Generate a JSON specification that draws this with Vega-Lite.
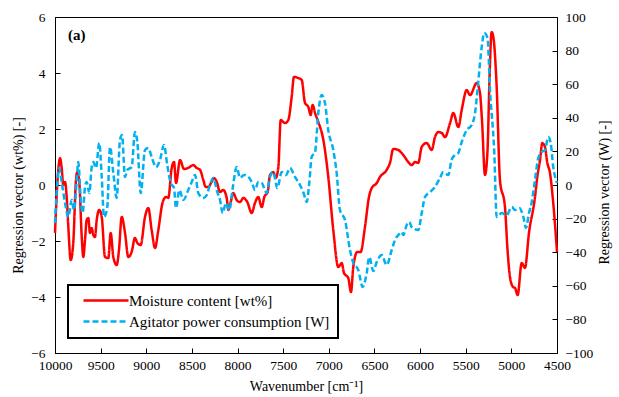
{
  "$schema": "https://vega.github.io/schema/vega-lite/v6.json",
  "width": 502,
  "height": 336,
  "autosize": {"type": "none"},
  "padding": {"left": 55, "top": 17, "right": 62, "bottom": 44},
  "background": "white",
  "config": {
    "view": {"stroke": "black", "strokeWidth": 1},
    "axis": {"grid": false, "labelFont": "Liberation Serif", "titleFont": "Liberation Serif", "labelFontSize": 13.5, "titleFontSize": 14, "labelColor": "black", "titleColor": "black", "titleFontWeight": "normal", "domainColor": "black", "tickColor": "black", "tickSize": -5, "labelFlush": false, "labelOverlap": false}
  },
  "datasets": {
    "panel": [{"w": 9858, "v": 5.18, "label": "(a)"}],
    "red": [
      {"w":10000,"v":-1.71},{"w":9964,"v":0.54},{"w":9945,"v":0.96},{"w":9927,"v":0.61},{"w":9909,"v":0.0},{"w":9890,"v":0.11},{"w":9872,"v":-0.43},{"w":9854,"v":-1.5},{"w":9828,"v":-2.68},{"w":9800,"v":-2.07},{"w":9770,"v":0.18},{"w":9756,"v":0.46},{"w":9734,"v":0.11},{"w":9707,"v":-1.86},{"w":9690,"v":-2.57},{"w":9671,"v":-1.96},{"w":9653,"v":-1.25},{"w":9635,"v":-1.18},{"w":9617,"v":-1.71},{"w":9598,"v":-1.54},{"w":9580,"v":-1.79},{"w":9562,"v":-1.86},{"w":9543,"v":-1.25},{"w":9515,"v":-0.89},{"w":9488,"v":-1.14},{"w":9452,"v":-2.57},{"w":9416,"v":-2.61},{"w":9390,"v":-1.71},{"w":9361,"v":-2.57},{"w":9324,"v":-2.86},{"w":9299,"v":-2.32},{"w":9269,"v":-1.14},{"w":9233,"v":-1.71},{"w":9197,"v":-2.57},{"w":9160,"v":-2.39},{"w":9124,"v":-1.89},{"w":9098,"v":-2.07},{"w":9061,"v":-2.14},{"w":9014,"v":-1.14},{"w":8978,"v":-0.82},{"w":8941,"v":-1.61},{"w":8904,"v":-2.25},{"w":8868,"v":-1.61},{"w":8820,"v":-0.61},{"w":8784,"v":-0.43},{"w":8759,"v":-0.46},{"w":8721,"v":0.61},{"w":8696,"v":0.82},{"w":8674,"v":0.07},{"w":8630,"v":0.89},{"w":8587,"v":0.57},{"w":8540,"v":0.61},{"w":8485,"v":0.71},{"w":8448,"v":0.61},{"w":8411,"v":0.54},{"w":8375,"v":0.18},{"w":8349,"v":-0.07},{"w":8320,"v":-0.07},{"w":8291,"v":0.07},{"w":8258,"v":0.25},{"w":8228,"v":0.11},{"w":8192,"v":-0.25},{"w":8156,"v":-0.18},{"w":8119,"v":-0.46},{"w":8101,"v":-0.89},{"w":8075,"v":-0.61},{"w":8047,"v":-0.29},{"w":8009,"v":-0.54},{"w":7973,"v":-0.61},{"w":7937,"v":-0.46},{"w":7893,"v":-0.61},{"w":7845,"v":-1.0},{"w":7809,"v":-0.64},{"w":7773,"v":-0.43},{"w":7735,"v":-0.79},{"w":7707,"v":-0.43},{"w":7670,"v":-0.25},{"w":7644,"v":0.36},{"w":7608,"v":0.46},{"w":7582,"v":0.25},{"w":7553,"v":0.64},{"w":7527,"v":2.32},{"w":7480,"v":2.21},{"w":7444,"v":2.32},{"w":7407,"v":3.14},{"w":7382,"v":3.86},{"w":7334,"v":3.82},{"w":7297,"v":3.75},{"w":7261,"v":2.93},{"w":7225,"v":2.79},{"w":7199,"v":2.5},{"w":7177,"v":2.86},{"w":7151,"v":2.57},{"w":7115,"v":2.25},{"w":7060,"v":1.61},{"w":7006,"v":0.29},{"w":6951,"v":-1.61},{"w":6896,"v":-2.93},{"w":6859,"v":-2.79},{"w":6834,"v":-3.14},{"w":6787,"v":-3.32},{"w":6757,"v":-3.82},{"w":6732,"v":-2.93},{"w":6688,"v":-2.39},{"w":6651,"v":-2.39},{"w":6604,"v":-1.5},{"w":6560,"v":-0.43},{"w":6530,"v":-0.11},{"w":6475,"v":0.07},{"w":6439,"v":0.29},{"w":6366,"v":0.54},{"w":6330,"v":0.79},{"w":6294,"v":1.29},{"w":6239,"v":1.25},{"w":6184,"v":1.07},{"w":6129,"v":0.82},{"w":6092,"v":0.71},{"w":6056,"v":0.82},{"w":6020,"v":0.79},{"w":5982,"v":1.36},{"w":5928,"v":1.5},{"w":5873,"v":1.25},{"w":5837,"v":1.71},{"w":5801,"v":1.89},{"w":5763,"v":1.86},{"w":5727,"v":1.71},{"w":5672,"v":2.21},{"w":5636,"v":2.57},{"w":5581,"v":2.07},{"w":5544,"v":2.68},{"w":5489,"v":3.39},{"w":5453,"v":3.21},{"w":5380,"v":3.64},{"w":5344,"v":3.29},{"w":5322,"v":2.32},{"w":5289,"v":0.36},{"w":5261,"v":1.25},{"w":5240,"v":3.75},{"w":5216,"v":5.46},{"w":5196,"v":5.25},{"w":5161,"v":3.5},{"w":5125,"v":0.18},{"w":5070,"v":-0.79},{"w":5042,"v":-2.32},{"w":5015,"v":-3.29},{"w":4982,"v":-3.64},{"w":4960,"v":-3.68},{"w":4931,"v":-3.93},{"w":4887,"v":-2.79},{"w":4851,"v":-2.96},{"w":4807,"v":-1.71},{"w":4741,"v":-0.43},{"w":4716,"v":0.29},{"w":4686,"v":0.89},{"w":4661,"v":1.5},{"w":4632,"v":1.36},{"w":4606,"v":0.79},{"w":4577,"v":0.43},{"w":4544,"v":-0.54},{"w":4500,"v":-2.39}
    ],
    "blue": [
      {"w":10000,"p":-22.6},{"w":9975,"p":1.2},{"w":9953,"p":10.1},{"w":9927,"p":1.8},{"w":9890,"p":-10.7},{"w":9854,"p":-19.0},{"w":9817,"p":-8.9},{"w":9792,"p":-14.9},{"w":9762,"p":3.0},{"w":9745,"p":13.7},{"w":9718,"p":-8.9},{"w":9697,"p":-16.7},{"w":9671,"p":-1.2},{"w":9653,"p":1.8},{"w":9624,"p":-4.8},{"w":9598,"p":10.7},{"w":9580,"p":13.7},{"w":9551,"p":10.1},{"w":9515,"p":25.0},{"w":9488,"p":4.8},{"w":9463,"p":-19.0},{"w":9427,"p":-13.1},{"w":9397,"p":22.6},{"w":9361,"p":7.1},{"w":9324,"p":-7.7},{"w":9288,"p":26.8},{"w":9266,"p":29.8},{"w":9233,"p":4.8},{"w":9208,"p":8.9},{"w":9160,"p":10.7},{"w":9124,"p":31.5},{"w":9098,"p":25.6},{"w":9061,"p":-4.8},{"w":9014,"p":20.8},{"w":8978,"p":22.0},{"w":8941,"p":16.7},{"w":8893,"p":10.7},{"w":8850,"p":14.9},{"w":8806,"p":23.8},{"w":8770,"p":11.9},{"w":8732,"p":1.2},{"w":8696,"p":-1.8},{"w":8674,"p":-13.7},{"w":8638,"p":-3.0},{"w":8594,"p":-8.9},{"w":8540,"p":-3.0},{"w":8502,"p":1.8},{"w":8466,"p":6.0},{"w":8430,"p":-4.8},{"w":8375,"p":-7.7},{"w":8338,"p":-6.0},{"w":8302,"p":0.0},{"w":8266,"p":4.2},{"w":8222,"p":-4.2},{"w":8192,"p":-8.9},{"w":8163,"p":-16.7},{"w":8127,"p":-10.7},{"w":8090,"p":-14.9},{"w":8053,"p":-1.8},{"w":8009,"p":10.7},{"w":7973,"p":4.2},{"w":7929,"p":6.0},{"w":7882,"p":4.8},{"w":7845,"p":1.8},{"w":7809,"p":-3.0},{"w":7773,"p":1.8},{"w":7735,"p":1.2},{"w":7681,"p":-4.8},{"w":7644,"p":4.8},{"w":7608,"p":7.7},{"w":7564,"p":-1.8},{"w":7516,"p":7.7},{"w":7469,"p":6.0},{"w":7425,"p":10.1},{"w":7371,"p":4.8},{"w":7316,"p":0.0},{"w":7280,"p":-4.2},{"w":7242,"p":-10.1},{"w":7214,"p":1.2},{"w":7188,"p":16.7},{"w":7151,"p":19.6},{"w":7115,"p":42.9},{"w":7078,"p":53.6},{"w":7042,"p":48.8},{"w":7006,"p":32.7},{"w":6951,"p":20.8},{"w":6914,"p":7.1},{"w":6878,"p":-14.9},{"w":6823,"p":-20.8},{"w":6768,"p":-38.7},{"w":6732,"p":-46.4},{"w":6677,"p":-50.6},{"w":6629,"p":-60.7},{"w":6585,"p":-52.4},{"w":6557,"p":-42.9},{"w":6513,"p":-51.2},{"w":6475,"p":-45.8},{"w":6421,"p":-41.7},{"w":6366,"p":-47.6},{"w":6311,"p":-38.7},{"w":6275,"p":-32.7},{"w":6239,"p":-29.8},{"w":6202,"p":-28.0},{"w":6184,"p":-29.8},{"w":6147,"p":-23.8},{"w":6118,"p":-22.0},{"w":6092,"p":-25.0},{"w":6020,"p":-26.8},{"w":5982,"p":-16.7},{"w":5946,"p":-7.1},{"w":5891,"p":-4.2},{"w":5837,"p":-1.2},{"w":5782,"p":4.2},{"w":5746,"p":7.7},{"w":5691,"p":6.0},{"w":5655,"p":14.9},{"w":5618,"p":17.9},{"w":5582,"p":19.0},{"w":5544,"p":25.6},{"w":5489,"p":32.7},{"w":5435,"p":35.7},{"w":5398,"p":42.9},{"w":5366,"p":59.5},{"w":5325,"p":82.1},{"w":5297,"p":90.5},{"w":5261,"p":87.5},{"w":5234,"p":56.5},{"w":5187,"p":19.0},{"w":5161,"p":-19.0},{"w":5106,"p":-16.7},{"w":5051,"p":-17.9},{"w":4996,"p":-13.1},{"w":4960,"p":-14.9},{"w":4913,"p":-13.7},{"w":4869,"p":-19.0},{"w":4840,"p":-25.6},{"w":4807,"p":-16.7},{"w":4777,"p":-10.1},{"w":4741,"p":3.0},{"w":4705,"p":16.1},{"w":4668,"p":19.6},{"w":4632,"p":20.8},{"w":4595,"p":28.6},{"w":4569,"p":25.0},{"w":4541,"p":10.7},{"w":4500,"p":1.2}
    ]
  },
  "encoding": {
    "x": {"field": "w", "type": "quantitative", "scale": {"domain": [4500, 10000], "reverse": true, "nice": false}, "axis": {"title": "Wavenumber [cm⁻¹]", "values": [10000,9500,9000,8500,8000,7500,7000,6500,6000,5500,5000,4500], "format": "d", "labelPadding": 10, "titlePadding": 8}}
  },
  "layer": [
    {
      "layer": [
        {
          "data": {"name": "red"},
          "transform": [{"calculate": "'Moisture content [wt%]'", "as": "series"}],
          "mark": {"type": "line", "strokeWidth": 2.5, "interpolate": "monotone"},
          "encoding": {
            "y": {"field": "v", "type": "quantitative", "scale": {"domain": [-6, 6], "nice": false}, "axis": {"title": "Regression vector (wt%) [-]", "values": [-6,-4,-2,0,2,4,6], "labelPadding": 15, "titlePadding": 5, "titleY": 178}},
            "color": {"field": "series", "type": "nominal", "scale": {"domain": ["Moisture content [wt%]", "Agitator power consumption [W]"], "range": ["#FF0000", "#00B0F0"]}, "legend": {"title": null, "orient": "none", "legendX": 13, "legendY": 268, "strokeColor": "black", "padding": 8, "symbolType": "M0,0H10", "symbolSize": 81, "symbolStrokeWidth": 2.5, "labelFont": "Liberation Serif", "labelFontSize": 15, "labelColor": "black", "rowPadding": 5, "labelOffset": 38, "labelLimit": 400, "encode": {"legend": {"update": {"strokeWidth": {"value": 2}}}}}},
            "strokeDash": {"field": "series", "type": "nominal", "scale": {"domain": ["Moisture content [wt%]", "Agitator power consumption [W]"], "range": [[1, 0], [6, 3]]}, "legend": null}
          }
        },
        {
          "data": {"name": "panel"},
          "mark": {"type": "text", "align": "left", "baseline": "alphabetic", "font": "Liberation Serif", "fontSize": 15, "fontWeight": "bold", "color": "black"},
          "encoding": {
            "y": {"field": "v", "type": "quantitative"},
            "text": {"field": "label"}
          }
        }
      ]
    },
    {
      "data": {"name": "blue"},
      "transform": [{"calculate": "'Agitator power consumption [W]'", "as": "series"}],
      "mark": {"type": "line", "strokeWidth": 2.5, "interpolate": "monotone"},
      "encoding": {
        "y": {"field": "p", "type": "quantitative", "scale": {"domain": [-100, 100], "nice": false}, "axis": {"orient": "right", "title": "Regression vector (W) [-]", "titleAngle": -90, "values": [-100,-80,-60,-40,-20,0,20,40,60,80,100], "labelPadding": 13, "titlePadding": 19, "titleY": 175}},
        "color": {"field": "series", "type": "nominal"},
        "strokeDash": {"field": "series", "type": "nominal"}
      }
    }
  ],
  "resolve": {"scale": {"y": "independent"}}
}
